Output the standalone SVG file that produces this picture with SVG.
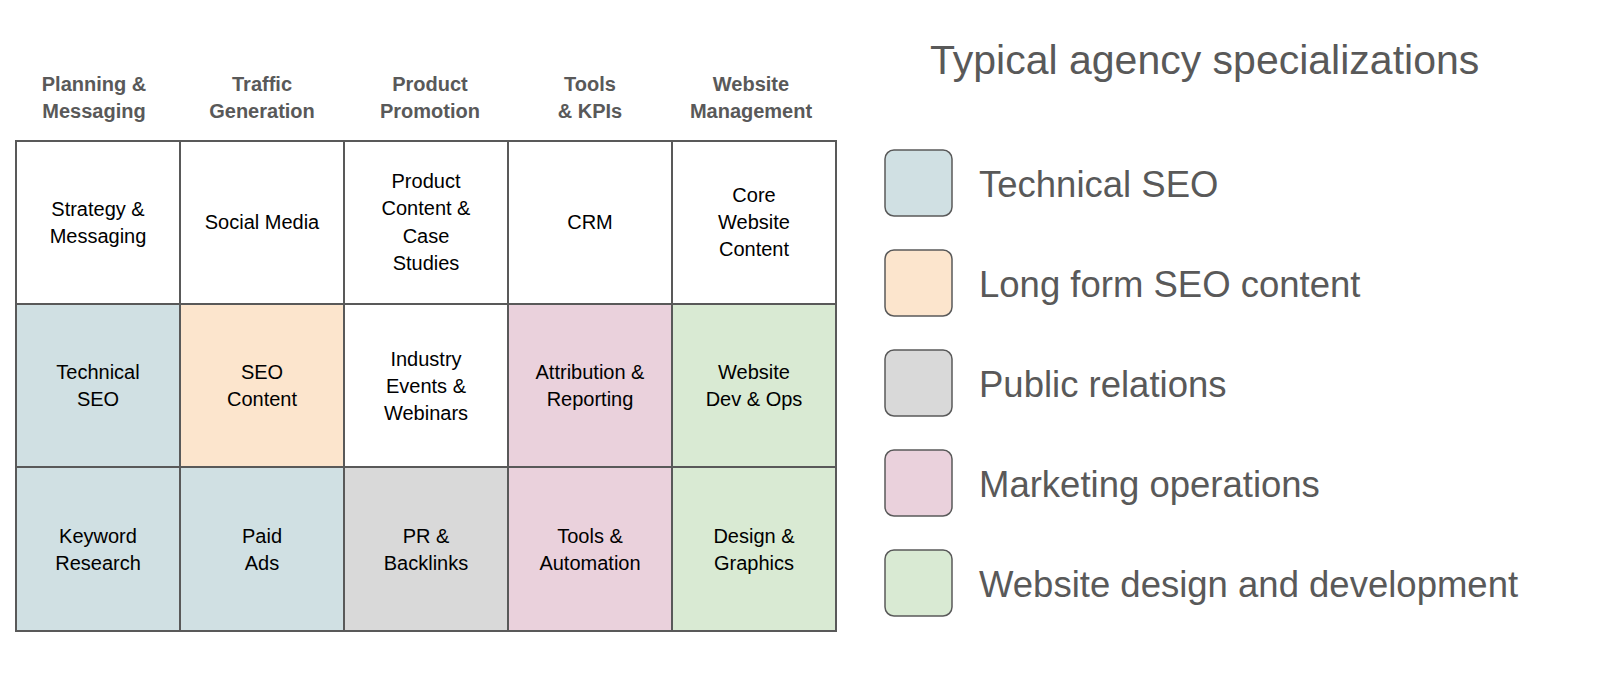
<svg xmlns="http://www.w3.org/2000/svg" width="1600" height="685" viewBox="0 0 1600 685">
<style>
.h{font-family:"Liberation Sans",Arial,sans-serif;font-size:20px;font-weight:bold;fill:#595959;text-anchor:middle}
.t{font-family:"Liberation Sans",Arial,sans-serif;font-size:20px;fill:#000;text-anchor:middle}
.c{stroke:#595959;stroke-width:2}
.k{stroke:#595959;stroke-width:1.5}
.l{font-family:"Liberation Sans",Arial,sans-serif;font-size:36.5px;fill:#595959}
.w{fill:#fff}.b{fill:#d0e0e3}.o{fill:#fce5cd}.g{fill:#d9d9d9}.p{fill:#ead1dc}.n{fill:#d9ead3}
</style>
<rect width="1600" height="685" fill="#fff"/>
<g id="headers">
<text class="h" x="94" y="91">Planning &amp;</text><text class="h" x="94" y="118">Messaging</text>
<text class="h" x="262" y="91">Traffic</text><text class="h" x="262" y="118">Generation</text>
<text class="h" x="430" y="91">Product</text><text class="h" x="430" y="118">Promotion</text>
<text class="h" x="590" y="91">Tools</text><text class="h" x="590" y="118">&amp; KPIs</text>
<text class="h" x="751" y="91">Website</text><text class="h" x="751" y="118">Management</text>
</g>
<g id="r1">
<rect class="c w" x="16" y="141" width="164" height="163"/><text class="t" x="98" y="216">Strategy &amp;</text><text class="t" x="98" y="243">Messaging</text>
<rect class="c w" x="180" y="141" width="164" height="163"/><text class="t" x="262" y="229">Social Media</text>
<rect class="c w" x="344" y="141" width="164" height="163"/><text class="t" x="426" y="188">Product</text><text class="t" x="426" y="215">Content &amp;</text><text class="t" x="426" y="243">Case</text><text class="t" x="426" y="270">Studies</text>
<rect class="c w" x="508" y="141" width="164" height="163"/><text class="t" x="590" y="229">CRM</text>
<rect class="c w" x="672" y="141" width="164" height="163"/><text class="t" x="754" y="202">Core</text><text class="t" x="754" y="229">Website</text><text class="t" x="754" y="256">Content</text>
</g>
<g id="r2">
<rect class="c b" x="16" y="304" width="164" height="163"/><text class="t" x="98" y="379">Technical</text><text class="t" x="98" y="406">SEO</text>
<rect class="c o" x="180" y="304" width="164" height="163"/><text class="t" x="262" y="379">SEO</text><text class="t" x="262" y="406">Content</text>
<rect class="c w" x="344" y="304" width="164" height="163"/><text class="t" x="426" y="366">Industry</text><text class="t" x="426" y="393">Events &amp;</text><text class="t" x="426" y="420">Webinars</text>
<rect class="c p" x="508" y="304" width="164" height="163"/><text class="t" x="590" y="379">Attribution &amp;</text><text class="t" x="590" y="406">Reporting</text>
<rect class="c n" x="672" y="304" width="164" height="163"/><text class="t" x="754" y="379">Website</text><text class="t" x="754" y="406">Dev &amp; Ops</text>
</g>
<g id="r3">
<rect class="c b" x="16" y="467" width="164" height="164"/><text class="t" x="98" y="543">Keyword</text><text class="t" x="98" y="570">Research</text>
<rect class="c b" x="180" y="467" width="164" height="164"/><text class="t" x="262" y="543">Paid</text><text class="t" x="262" y="570">Ads</text>
<rect class="c g" x="344" y="467" width="164" height="164"/><text class="t" x="426" y="543">PR &amp;</text><text class="t" x="426" y="570">Backlinks</text>
<rect class="c p" x="508" y="467" width="164" height="164"/><text class="t" x="590" y="543">Tools &amp;</text><text class="t" x="590" y="570">Automation</text>
<rect class="c n" x="672" y="467" width="164" height="164"/><text class="t" x="754" y="543">Design &amp;</text><text class="t" x="754" y="570">Graphics</text>
</g>
<g id="legend">
<text x="930" y="74" font-family="Liberation Sans,Arial,sans-serif" font-size="41" fill="#595959">Typical agency specializations</text>
<rect class="k b" x="885" y="150" width="67" height="66" rx="9"/><text class="l" x="979" y="197">Technical SEO</text>
<rect class="k o" x="885" y="250" width="67" height="66" rx="9"/><text class="l" x="979" y="297">Long form SEO content</text>
<rect class="k g" x="885" y="350" width="67" height="66" rx="9"/><text class="l" x="979" y="397">Public relations</text>
<rect class="k p" x="885" y="450" width="67" height="66" rx="9"/><text class="l" x="979" y="497">Marketing operations</text>
<rect class="k n" x="885" y="550" width="67" height="66" rx="9"/><text class="l" x="979" y="597">Website design and development</text>
</g>
</svg>
